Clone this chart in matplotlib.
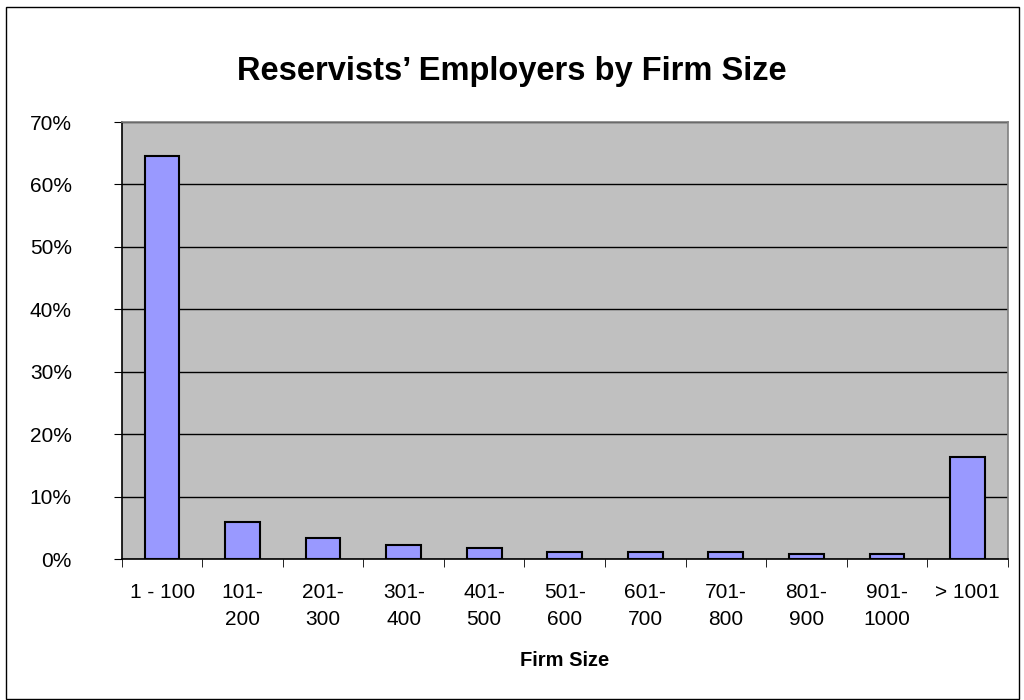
import matplotlib.pyplot as plt
from matplotlib.patches import Rectangle
import numpy as np

plt.rcParams['font.family'] = ['Liberation Sans', 'DejaVu Sans']

# Data
categories = ["1 - 100", "101-\n200", "201-\n300", "301-\n400", "401-\n500", "501-\n600",
              "601-\n700", "701-\n800", "801-\n900", "901-\n1000", "> 1001"]
shares = [64.5, 6.0, 3.4, 2.3, 1.7, 1.1, 1.1, 1.1, 0.85, 0.85, 16.3]

fig = plt.figure(figsize=(10.24, 7), dpi=100)
ax = fig.add_axes([0.119, 0.2014, 0.865, 0.6243])

x = np.arange(len(categories))
ax.bar(x, shares, width=0.43, color="#9999FF", edgecolor="black", linewidth=1.5, zorder=3)

ax.set_facecolor("#C0C0C0")
ax.set_xlim(-0.5, len(categories) - 0.5)
ax.set_ylim(0, 70)
ax.set_yticks(range(0, 71, 10))
ax.set_yticklabels([f"{v}%" for v in range(0, 71, 10)], fontsize=15)
ax.yaxis.grid(True, color="black", linewidth=1, zorder=1)

# category labels centred, tick marks at category boundaries
ax.set_xticks(x)
ax.set_xticklabels(categories, fontsize=15, linespacing=1.55)
ax.tick_params(axis="x", length=0, pad=17)
ax.set_xticks(np.arange(-0.5, len(categories)), minor=True)
ax.tick_params(axis="x", which="minor", length=6, direction="out", color="black")
ax.tick_params(axis="y", length=6, direction="out", color="black", pad=30)

for side in ["left", "bottom"]:
    ax.spines[side].set_color("black")
    ax.spines[side].set_linewidth(1.2)
for side in ["top", "right"]:
    ax.spines[side].set_color("#808080")
    ax.spines[side].set_linewidth(1.2)

ax.set_xlabel("Firm Size", fontsize=14.5, fontweight="bold", labelpad=16)
fig.text(0.5, 0.898, "Reservists\u2019 Employers by Firm Size", ha="center", va="center",
         fontsize=23.5, fontweight="bold")

# outer chart border
fig.patches.append(Rectangle((0.006, 0.002), 0.989, 0.988, transform=fig.transFigure,
                             fill=False, edgecolor="black", linewidth=1))

fig.savefig("out.png", dpi=100)
